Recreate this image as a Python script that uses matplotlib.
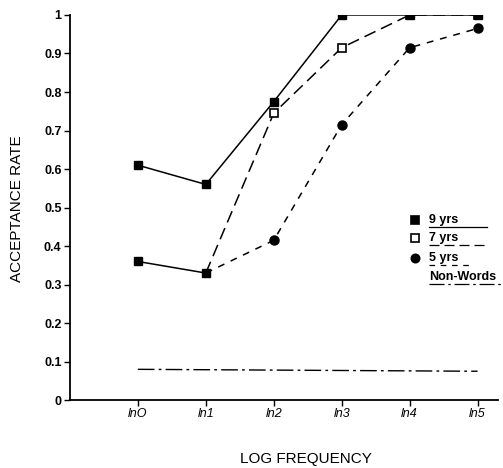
import matplotlib
matplotlib.use('Agg')
import matplotlib.pyplot as plt
from matplotlib import font_manager

plt.rcParams['font.family'] = ['Liberation Sans', 'DejaVu Sans']

freq_labels = ['lnO', 'ln1', 'ln2', 'ln3', 'ln4', 'ln5']
x = [0, 1, 2, 3, 4, 5]
yrs9 = [0.61, 0.56, 0.775, 1.0, 1.0, 1.0]
yrs7 = [0.36, 0.33, 0.745, 0.915, 1.0, 1.0]
yrs5 = [0.36, 0.33, 0.415, 0.715, 0.915, 0.965]
nonwords = [0.08, 0.075]
nonwords_x = [0, 5]

names = {f.name for f in font_manager.fontManager.ttflist}
narrow = 'Liberation Sans Narrow' if 'Liberation Sans Narrow' in names else 'Liberation Sans'

fig = plt.figure(figsize=(5.03, 4.68), dpi=100)
ax = fig.add_axes([0.139, 0.145, 0.851, 0.823])

# 9 yrs
ax.plot(x, yrs9, '-', color='black', lw=1.1, marker='s', ms=6, mfc='black', zorder=5)
# 7 and 5 yrs share the first two points (drawn as one solid segment)
ax.plot(x[:2], yrs7[:2], '-', color='black', lw=1.1, marker='s', ms=6, mfc='black', zorder=3)
ax.plot(x[1:], yrs7[1:], color='black', lw=1.1, dashes=(8, 4), zorder=2)
ax.plot(x[2:], yrs7[2:], ls='none', marker='s', ms=6, mfc='white', mec='black', mew=1.2, zorder=4)
ax.plot(x[1:], yrs5[1:], color='black', lw=1.1, dashes=(4.5, 4.5), zorder=2)
ax.plot(x[2:], yrs5[2:], ls='none', marker='o', ms=6.5, color='black', zorder=3)
# non-words
ax.plot(nonwords_x, nonwords, color='black', lw=1.0, dashes=(12, 3, 2, 3), zorder=2)

ax.set_xlim(-1, 5.3)
ax.set_ylim(0, 1)
ax.set_xticks(x)
ax.set_xticklabels(freq_labels, fontstyle='italic', fontsize=9)
ax.set_yticks([0, 0.1, 0.2, 0.3, 0.4, 0.5, 0.6, 0.7, 0.8, 0.9, 1.0])
ax.set_yticklabels(['0', '0.1', '0.2', '0.3', '0.4', '0.5', '0.6', '0.7', '0.8', '0.9', '1'],
                   fontsize=9, fontweight='bold')
ax.spines['top'].set_visible(False)
ax.spines['right'].set_visible(False)
ax.spines['left'].set_linewidth(1.3)
ax.spines['bottom'].set_linewidth(1.3)
ax.tick_params(direction='out', length=4, width=1, pad=2)

fig.text(0.034, 0.555, 'ACCEPTANCE RATE', fontsize=11, family=narrow,
         rotation=90, ha='center', va='center')
fig.text(0.608, 0.019, 'LOG FREQUENCY', fontsize=11, family=narrow,
         ha='center', va='center')

# legend with line-style underlines (pixel positions inside the axes)
tr = ax.transAxes
def fx(px):
    return (px - 70) / 428.0
def fy(py):
    return (400 - py) / 385.0

entries = [
    ('9 yrs', 220, dict(marker='s', mfc='black'), None, 487),
    ('7 yrs', 238, dict(marker='s', mfc='white'), (8, 4), 487),
    ('5 yrs', 258, dict(marker='o', mfc='black'), (4.5, 4.5), 474),
    ('Non-Words', 277, None, (12, 3, 2, 3), 503),
]
for label, py, mk, dsh, xend in entries:
    yy = fy(py)
    if mk is not None:
        ax.plot([fx(415)], [yy], ls='none', ms=6, mec='black', mew=1.2,
                transform=tr, clip_on=False, **mk)
    ax.text(fx(429), yy, label, transform=tr, fontsize=9, fontweight='bold',
            va='center', ha='left')
    uy = fy(py + 6.5)
    if dsh is None:
        ax.plot([fx(429), fx(xend)], [uy, uy], '-', color='black', lw=0.9,
                transform=tr, clip_on=False)
    else:
        ax.plot([fx(429), fx(xend)], [uy, uy], color='black', lw=0.9, dashes=dsh,
                transform=tr, clip_on=False)

fig.savefig('out.png', dpi=100)
